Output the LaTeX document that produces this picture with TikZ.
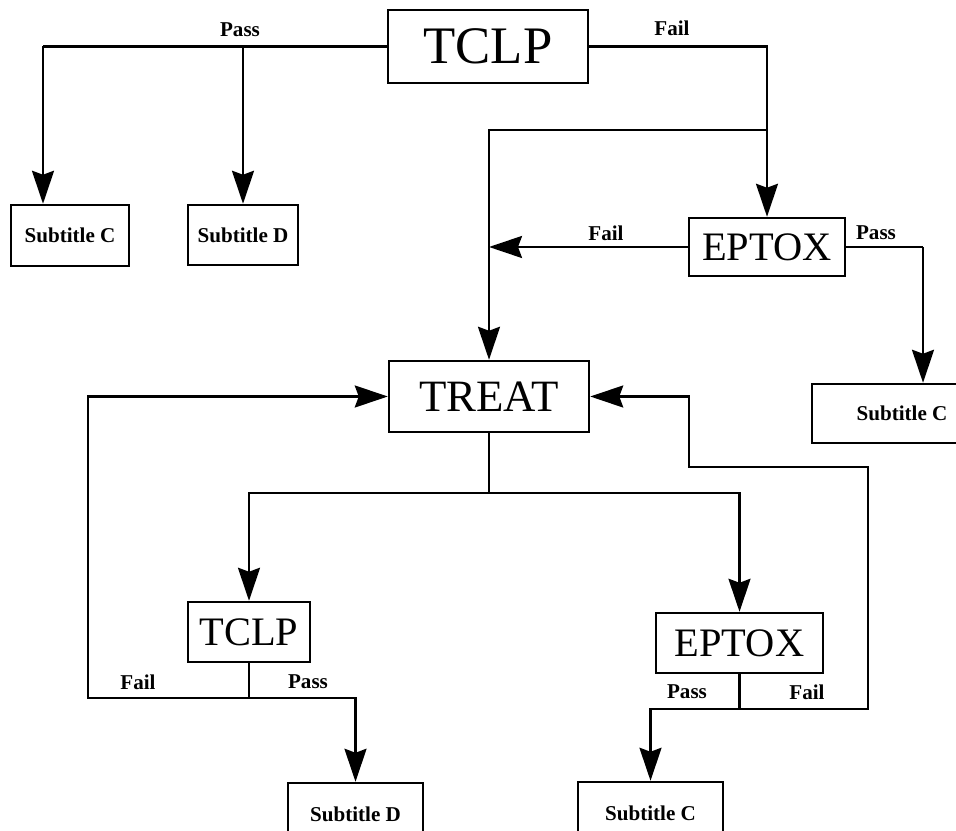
\documentclass[tikz,border=0pt]{standalone}
\usepackage{fontspec}
\setmainfont{Liberation Serif}
\usepackage{tikz}
\usetikzlibrary{arrows.meta}
\usetikzlibrary{positioning}
\tikzset{box/.style = {draw, rectangle, line width = 1.4pt, inner sep = 0}}
\tikzset{lbl/.style = {font = \fontsize{12}{14}\selectfont\bfseries, inner sep = 0}}
\tikzset{arr/.style = {-{Stealth[length = 6.6mm, width = 4.4mm, inset = 0.8mm]}}}
\tikzset{wire/.style = {line width = 1.4pt}}

\begin{document}
\begin{tikzpicture}[wire]
    \useasboundingbox (0, 0) rectangle (19.12, 16.6);
    % boxes
    \node [box, minimum width = 4cm, minimum height = 1.46cm, font = \fontsize{30}{32}\selectfont] (tclp) at (9.76, 15.67) {TCLP};
    \node [box, minimum width = 2.36cm, minimum height = 1.22cm, lbl] (subC1) at (1.40, 11.89) {Subtitle C};
    \node [box, minimum width = 2.2cm, minimum height = 1.2cm, lbl] (subD1) at (4.86, 11.90) {Subtitle D};
    \node [box, minimum width = 3.12cm, minimum height = 1.16cm, font = \fontsize{23}{25}\selectfont] (eptox1) at (15.34, 11.66) {EPTOX};
    \node [box, minimum width = 3.6cm, minimum height = 1.18cm, lbl] (subC2) at (18.04, 8.33) {Subtitle C};
    \node [box, minimum width = 4cm, minimum height = 1.42cm, font = \fontsize{25.5}{27}\selectfont] (treat) at (9.78, 8.67) {TREAT};
    \node [box, minimum width = 2.44cm, minimum height = 1.2cm, font = \fontsize{23}{25}\selectfont] (tclp2) at (4.98, 3.96) {TCLP};
    \node [box, minimum width = 3.34cm, minimum height = 1.2cm, font = \fontsize{23}{25}\selectfont] (eptox2) at (14.79, 3.74) {EPTOX};
    \node [box, minimum width = 2.7cm, minimum height = 1.24cm, lbl] (subD2) at (7.11, 0.32) {Subtitle D};
    \node [box, minimum width = 2.9cm, minimum height = 1.24cm, lbl] (subC3) at (13.01, 0.34) {Subtitle C};
    % junctions
    \coordinate (pc) at (0.86, 15.67);
    \coordinate (pd) at (tclp.west -| subD1.north);
    \coordinate (fj) at (15.34, 14.0);
    \coordinate (pr) at (18.46, 11.66);
    \coordinate (tsplit) at (9.78, 6.74);
    \coordinate (lsplit) at (4.98, 2.64);
    \coordinate (lcorner) at (1.76, 2.64);
    \coordinate (rsplit) at (14.79, 2.42);
    \coordinate (rcorner) at (17.36, 2.42);
    \coordinate (rtop) at (17.36, 7.26);
    \coordinate (rback) at (13.78, 7.26);
    % top TCLP
    \draw (tclp.west) -- (pc);
    \draw [arr] (pc) -- (pc |- subC1.north);
    \draw [arr] (pd) -- (subD1.north);
    \draw [arr] (tclp.east) -| (eptox1.north);
    \draw [arr] (fj) -| (treat.north);
    \draw [arr] (eptox1.west) -- (treat.north |- eptox1.west);
    \draw (eptox1.east) -- (pr);
    \draw [arr] (pr) -- (pr |- subC2.north);
    % TREAT
    \draw (treat.south) -- (tsplit);
    \draw [arr] (tsplit) -| (tclp2.north);
    \draw [arr] (tsplit) -| (eptox2.north);
    \draw (tclp2.south) -- (lsplit);
    \draw [arr] (lsplit) -| (subD2.north);
    \draw [arr] (lsplit) -- (lcorner) |- (treat.west);
    \draw (eptox2.south) -- (rsplit);
    \draw [arr] (rsplit) -| (subC3.north);
    \draw [arr] (rsplit) -- (rcorner) -- (rtop) -- (rback) |- (treat.east);
    % labels
    \node [lbl] (pass1) at (4.80, 16.0) {Pass};
    \node [lbl] (fail1) at (13.44, 16.04) {Fail};
    \node [lbl] (fail2) at (12.12, 11.94) {Fail};
    \node [lbl] (pass2) at (17.52, 11.94) {Pass};
    \node [lbl] (fail3) at (2.76, 2.96) {Fail};
    \node [lbl] (pass3) at (6.16, 2.96) {Pass};
    \node [lbl] (pass4) at (13.74, 2.76) {Pass};
    \node [lbl] (fail4) at (16.14, 2.76) {Fail};
  \end{tikzpicture}
\end{document}
